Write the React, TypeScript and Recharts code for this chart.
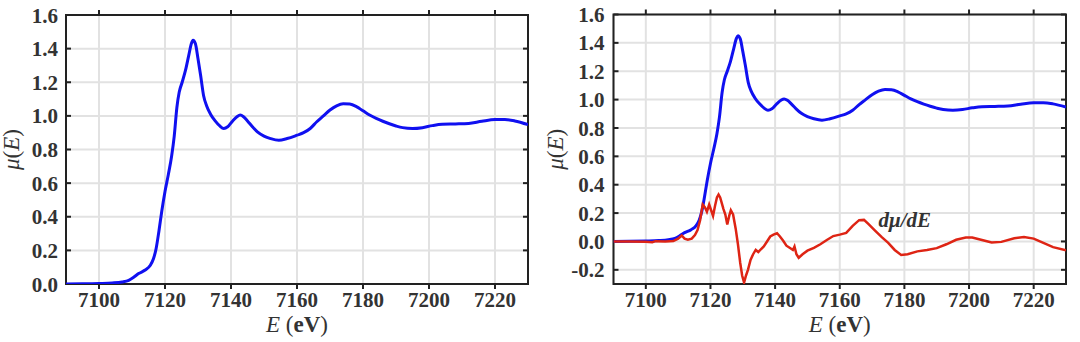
import React from "react";
import { LineChart, Line, XAxis, YAxis, CartesianGrid, ReferenceDot, ReferenceLine, ReferenceArea } from "recharts";

// x axis (photon energy, eV)
const energyTicks = [7100, 7120, 7140, 7160, 7180, 7200, 7220];
const leftYTicks = [0, 0.2, 0.4, 0.6, 0.8, 1.0, 1.2, 1.4, 1.6];
const rightYTicks = [-0.2, 0, 0.2, 0.4, 0.6, 0.8, 1.0, 1.2, 1.4, 1.6];

// normalised absorption mu(E)
const muEnergy = [
  7090, 7095, 7100, 7104, 7107, 7109, 7110.5, 7112, 7114, 7115.5, 7116.5, 7117.3, 7118.2, 7119, 7120,
  7121, 7122, 7122.8, 7123.6, 7124.3, 7125.2, 7126.2, 7127.2, 7128, 7128.5, 7129.2, 7130, 7130.8,
  7131.7, 7132.6, 7133.8, 7135.2, 7136.6, 7137.8, 7139, 7140.5, 7141.8, 7142.8, 7143.8, 7145, 7146.5,
  7148, 7150, 7152, 7154.5, 7157, 7160, 7162, 7164, 7166, 7168, 7170, 7172, 7174, 7176, 7178, 7180,
  7182, 7184, 7186, 7188, 7190, 7192, 7195, 7198, 7201, 7204, 7208, 7212, 7216, 7220, 7223, 7226, 7230,
];
const muValue = [
  0, 0.001, 0.003, 0.006, 0.012, 0.022, 0.04, 0.062, 0.083, 0.11, 0.15, 0.21, 0.32, 0.43, 0.55,
  0.65, 0.76, 0.88, 1.05, 1.14, 1.2, 1.27, 1.36, 1.43, 1.45, 1.43, 1.34, 1.24,
  1.12, 1.06, 1.01, 0.97, 0.94, 0.925, 0.935, 0.97, 0.995, 1.005, 0.995, 0.97, 0.935,
  0.905, 0.88, 0.865, 0.855, 0.865, 0.885, 0.9, 0.925, 0.965, 1.0, 1.035, 1.06, 1.072, 1.07, 1.055, 1.03,
  1.005, 0.985, 0.968, 0.953, 0.94, 0.93, 0.925, 0.93, 0.942, 0.95, 0.952, 0.955, 0.968, 0.978, 0.978, 0.97, 0.948,
];

// first derivative d mu / dE
const derivEnergy = [
  7090, 7095, 7100, 7102, 7103, 7106, 7108.5, 7110, 7111.1, 7112, 7113, 7114.2, 7115.2, 7116, 7116.8,
  7117.6, 7118.3, 7118.9, 7119.6, 7120.2, 7120.8, 7121.4, 7122, 7122.5, 7123, 7123.5, 7124, 7124.6,
  7125.2, 7125.8, 7126.3, 7127, 7127.8, 7128.5, 7129.2, 7129.8, 7130.4, 7131, 7131.6, 7132.4, 7133.2,
  7134, 7134.8, 7135.6, 7136.5, 7137.5, 7138.5, 7139.5, 7140.6, 7141.5, 7142.5, 7143.5, 7144.5, 7145.5,
  7146, 7146.6, 7147.3, 7148.5, 7150, 7152, 7154, 7156, 7158, 7160, 7162, 7164, 7166, 7167.5, 7169,
  7171, 7173, 7175, 7177, 7179, 7181, 7184, 7187, 7190, 7193, 7196, 7199, 7201, 7204, 7207, 7210,
  7214, 7217, 7220, 7223, 7226, 7230,
];
const derivValue = [
  0, 0, -0.002, -0.006, 0.002, 0, 0.003, 0.02, 0.042, 0.02, 0.012, 0.02, 0.045, 0.08, 0.15,
  0.26, 0.24, 0.21, 0.26, 0.22, 0.18, 0.25, 0.31, 0.33, 0.31, 0.27, 0.23, 0.19,
  0.12, 0.18, 0.22, 0.19, 0.09, -0.02, -0.15, -0.24, -0.29, -0.24, -0.2, -0.13, -0.09,
  -0.06, -0.075, -0.055, -0.035, 0, 0.035, 0.048, 0.058, 0.035, 0.005, -0.03, -0.045, -0.06,
  -0.035, -0.09, -0.115, -0.09, -0.065, -0.045, -0.02, 0.01, 0.038, 0.048, 0.06, 0.11, 0.15, 0.152, 0.12,
  0.075, 0.03, -0.01, -0.06, -0.095, -0.09, -0.07, -0.06, -0.047, -0.02, 0.012, 0.027, 0.027, 0.01, -0.008, -0.003,
  0.022, 0.032, 0.02, -0.01, -0.04, -0.062,
];

const derivNote = { e: 7172, v: 0.1, text: "dμ/dE" };

const muPoints = muEnergy.map((e, i) => ({ e, v: muValue[i] }));
const derivPoints = derivEnergy.map((e, i) => ({ e, v: derivValue[i] }));

const FONT = "'Liberation Serif', 'DejaVu Serif', serif";
const INK = "#333";
const FRAME = "#222";
const GRID = "#e2e2e2";
const TICK = 5;

const fmt = (v: number) => v.toFixed(1);
const txt = { fontFamily: FONT };

// inward tick stubs at both ends of a reference line
const vStubs = (p: any) => (
  <g>
    <line x1={p.x1} x2={p.x1} y1={p.y1} y2={p.y1 + TICK} stroke={FRAME} strokeWidth={2} />
    <line x1={p.x2} x2={p.x2} y1={p.y2} y2={p.y2 - TICK} stroke={FRAME} strokeWidth={2} />
  </g>
);
const hStubs = (p: any) => (
  <g>
    <line x1={p.x1} x2={p.x1 + TICK} y1={p.y1} y2={p.y1} stroke={FRAME} strokeWidth={2} />
    <line x1={p.x2} x2={p.x2 - TICK} y1={p.y2} y2={p.y2} stroke={FRAME} strokeWidth={2} />
  </g>
);

function Panel({ left, width, margin, axisWidth, yDomain, yTicks, yGap, titleX, deriv }: any) {
  const leftTick = (p: any) => (
    <text x={p.x} y={p.y} dy="0.36em" textAnchor="end" fill={INK} style={txt} fontWeight="bold" fontSize={21}>
      {fmt(p.payload.value)}
    </text>
  );
  const bottomTick = (p: any) => (
    <text x={p.x} y={p.y + 21} textAnchor="middle" fill={INK} style={txt} fontWeight="bold" fontSize={21}>
      {p.payload.value}
    </text>
  );

  return (
    <div style={{ position: "absolute", left, top: 0 }}>
      <LineChart width={width} height={342} margin={margin}>
        <CartesianGrid stroke={GRID} strokeWidth={2} />
        <XAxis
          dataKey="e"
          type="number"
          domain={[7090, 7230]}
          ticks={energyTicks}
          interval={0}
          allowDataOverflow
          height={30}
          tickSize={0}
          tickMargin={2}
          tickLine={false}
          axisLine={false}
          tick={bottomTick}
          label={(p: any) => {
            const vb = p.viewBox;
            return (
              <text x={vb.x + vb.width / 2} y={vb.y + 48} textAnchor="middle" fill={INK} style={txt} fontSize={23}>
                <tspan fontStyle="italic">E</tspan>
                <tspan> (</tspan>
                <tspan fontWeight="bold">eV</tspan>
                <tspan>)</tspan>
              </text>
            );
          }}
        />
        <YAxis
          type="number"
          domain={yDomain}
          ticks={yTicks}
          interval={0}
          allowDataOverflow
          width={axisWidth}
          tickSize={0}
          tickMargin={yGap}
          tickLine={false}
          axisLine={false}
          tick={leftTick}
          label={(p: any) => {
            const vb = p.viewBox;
            const cy = vb.y + vb.height / 2;
            return (
              <text
                x={titleX}
                y={cy}
                transform={`rotate(-90, ${titleX}, ${cy})`}
                textAnchor="middle"
                fill={INK}
                style={txt}
                fontSize={23}
              >
                <tspan fontStyle="italic">μ</tspan>
                <tspan>(</tspan>
                <tspan fontStyle="italic">E</tspan>
                <tspan>)</tspan>
              </text>
            );
          }}
        />
        {energyTicks.map((e) => (
          <ReferenceLine key={`x${e}`} x={e} stroke="none" shape={vStubs} />
        ))}
        {yTicks.map((v: number) => (
          <ReferenceLine key={`y${v}`} y={v} stroke="none" shape={hStubs} />
        ))}
        <Line
          data={muPoints}
          dataKey="v"
          type="monotone"
          stroke="#1010f0"
          strokeWidth={3}
          dot={false}
          activeDot={false}
          isAnimationActive={false}
        />
        {deriv && (
          <Line
            data={derivPoints}
            dataKey="v"
            type="linear"
            stroke="#de2414"
            strokeWidth={2.5}
            dot={false}
            activeDot={false}
            isAnimationActive={false}
          />
        )}
        {deriv && (
          <ReferenceDot
            x={derivNote.e}
            y={derivNote.v}
            r={0}
            ifOverflow="visible"
            shape={(p: any) => (
              <text x={p.cx} y={p.cy} fill={INK} style={txt} fontStyle="italic" fontWeight="bold" fontSize={21}>
                {derivNote.text}
              </text>
            )}
          />
        )}
        <ReferenceArea
          x1={7090}
          x2={7230}
          y1={yDomain[0]}
          y2={yDomain[1]}
          fill="none"
          fillOpacity={0}
          stroke={FRAME}
          strokeWidth={2}
          ifOverflow="visible"
        />
      </LineChart>
    </div>
  );
}

export default function App() {
  return (
    <div style={{ position: "absolute", left: 0, top: 0, width: 1080, height: 342, background: "#fff" }}>
      <Panel
        left={0}
        width={540}
        margin={{ top: 15, right: 12, bottom: 28, left: 0 }}
        axisWidth={66}
        yDomain={[0, 1.6]}
        yTicks={leftYTicks}
        yGap={8}
        titleX={19}
        deriv={false}
      />
      <Panel
        left={540}
        width={540}
        margin={{ top: 14.5, right: 14, bottom: 28, left: 0 }}
        axisWidth={73.5}
        yDomain={[-0.3, 1.6]}
        yTicks={rightYTicks}
        yGap={9}
        titleX={23}
        deriv={true}
      />
    </div>
  );
}
